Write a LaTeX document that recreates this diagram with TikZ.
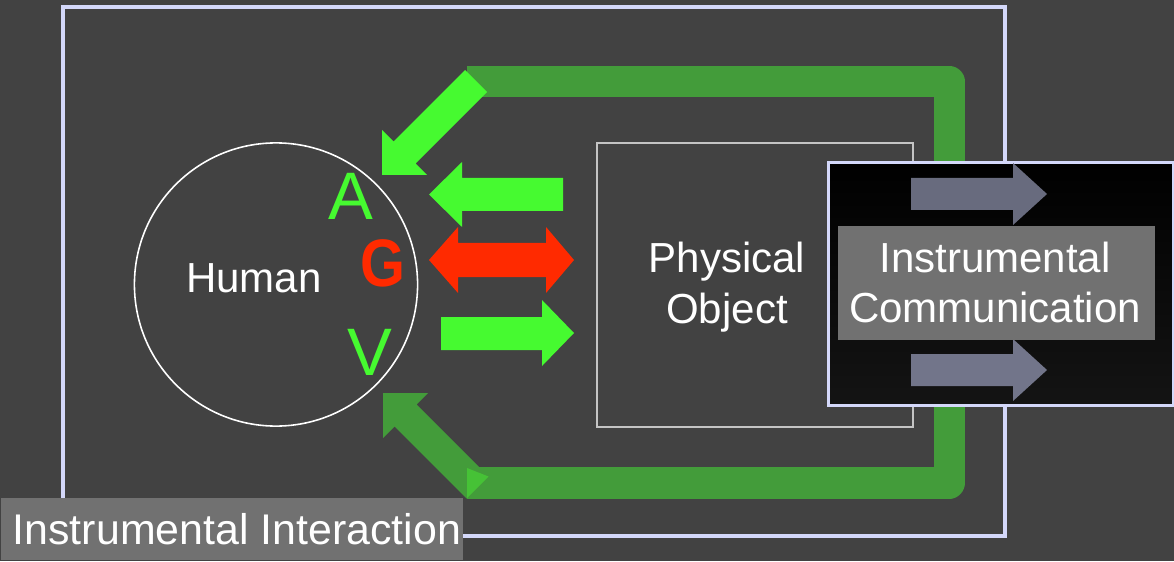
\documentclass[tikz,border=0pt]{standalone}
\usepackage{fontspec}
\setmainfont{Liberation Sans}
\definecolor{bg}{HTML}{424242}
\definecolor{framecol}{HTML}{D4D8FA}
\definecolor{lime}{HTML}{46FA30}
\definecolor{leaf}{HTML}{439C3A}
\definecolor{leaflight}{HTML}{46C236}
\definecolor{signal}{HTML}{FF2A00}
\definecolor{slatetop}{HTML}{686B7E}
\definecolor{slatebot}{HTML}{72758A}
\definecolor{labelgray}{HTML}{717171}
\definecolor{objline}{HTML}{C4C4C4}
\definecolor{deepgray}{HTML}{141414}
\begin{document}
\begin{tikzpicture}[x=0.01cm,y=-0.01cm,
  txt/.style={text=white,inner sep=0pt,font=\fontsize{11.95}{14}\selectfont},
  letter/.style={inner sep=0pt,font=\fontsize{19.1}{22}\selectfont},
  labelbox/.style={fill=labelgray,draw=none,inner sep=0pt},
]
% canvas
\fill[bg] (0,0) rectangle (1174,561);
\useasboundingbox (0,0) rectangle (1174,561);

% outer frame of the interaction
\draw[framecol,line width=0.9pt] (63,7) rectangle (1005,536);

% feedback loop band
\draw[leaf,line width=8.82pt,line join=round,line cap=butt]
  (467,81.5) -- (949,81.5) -- (949,483) -- (467,483);

% diagonal arrow into the human (top)
\fill[lime] (465,70) -- (487,92) -- (415.5,163.5) -- (427,175) -- (382,175)
  -- (382,130) -- (393.5,141.5) -- cycle;
% diagonal arrow out of the human (bottom)
\fill[leaf] (466.5,498.5) -- (488.5,476.5) -- (416.5,404.5) -- (428,393)
  -- (383,393) -- (383,438) -- (394.5,426.5) -- cycle;
\fill[leaflight] (467,468) -- (488.5,476.5) -- (467,498) -- cycle;

% human
\node[draw=white,circle,line width=0.45pt,minimum size=2.83cm,inner sep=0pt] (human) at (276,284.5) {};
\node[txt,anchor=base] (humanlabel) at (254,292) {Human};
\node[letter,text=lime,anchor=base] (letterA) at (350.5,220) {A};
\node[letter,text=signal,anchor=base,xscale=0.86] (letterG) at (383,286) {\textbf{G}};
\node[letter,text=lime,anchor=base] (letterV) at (369.5,375) {V};

% physical object
\node[draw=objline,line width=0.45pt,minimum width=3.16cm,minimum height=2.84cm,
  inner sep=0pt,anchor=north west] (object) at (596,142) {};
\node[txt,anchor=base] (objectA) at (727,272) {Physical};
\node[txt,anchor=base] (objectB) at (727,323) {Object};

% arrows between human and object
\fill[lime] (563,178) -- (462,178) -- (462,162) -- (429,194.5) -- (462,227)
  -- (462,211) -- (563,211) -- cycle;
\fill[signal] (429,260) -- (458,227) -- (458,243) -- (546,243) -- (546,227)
  -- (574,260) -- (546,293) -- (546,277) -- (458,277) -- (458,293) -- cycle;
\fill[lime] (441,317) -- (542,317) -- (542,300) -- (574,333) -- (542,366)
  -- (542,350) -- (441,350) -- cycle;

% instrumental communication panel
\node[draw=framecol,line width=0.9pt,top color=black,bottom color=deepgray,
  minimum width=3.45cm,minimum height=2.43cm,inner sep=0pt,anchor=north west]
  (comm) at (827,161) {};
\fill[slatetop] (911,178) -- (1013,178) -- (1013,163) -- (1047,194) -- (1013,225)
  -- (1013,210) -- (911,210) -- cycle;
\fill[slatebot] (911,354) -- (1013,354) -- (1013,339) -- (1047,370) -- (1013,401)
  -- (1013,386) -- (911,386) -- cycle;
\node[labelbox,minimum width=3.17cm,minimum height=1.14cm,anchor=north west]
  (commbox) at (837,225) {};
\node[txt,anchor=base] (commA) at (995,272) {Instrumental};
\node[txt,anchor=base] (commB) at (995,322) {Communication};

% caption of the whole frame
\node[labelbox,minimum width=4.62cm,minimum height=0.62cm,anchor=south west]
  (interbox) at (0,561) {};
\node[txt,anchor=base west,font=\fontsize{12.2}{14}\selectfont] (interlabel) at (12,544) {Instrumental Interaction};
\end{tikzpicture}
\end{document}
